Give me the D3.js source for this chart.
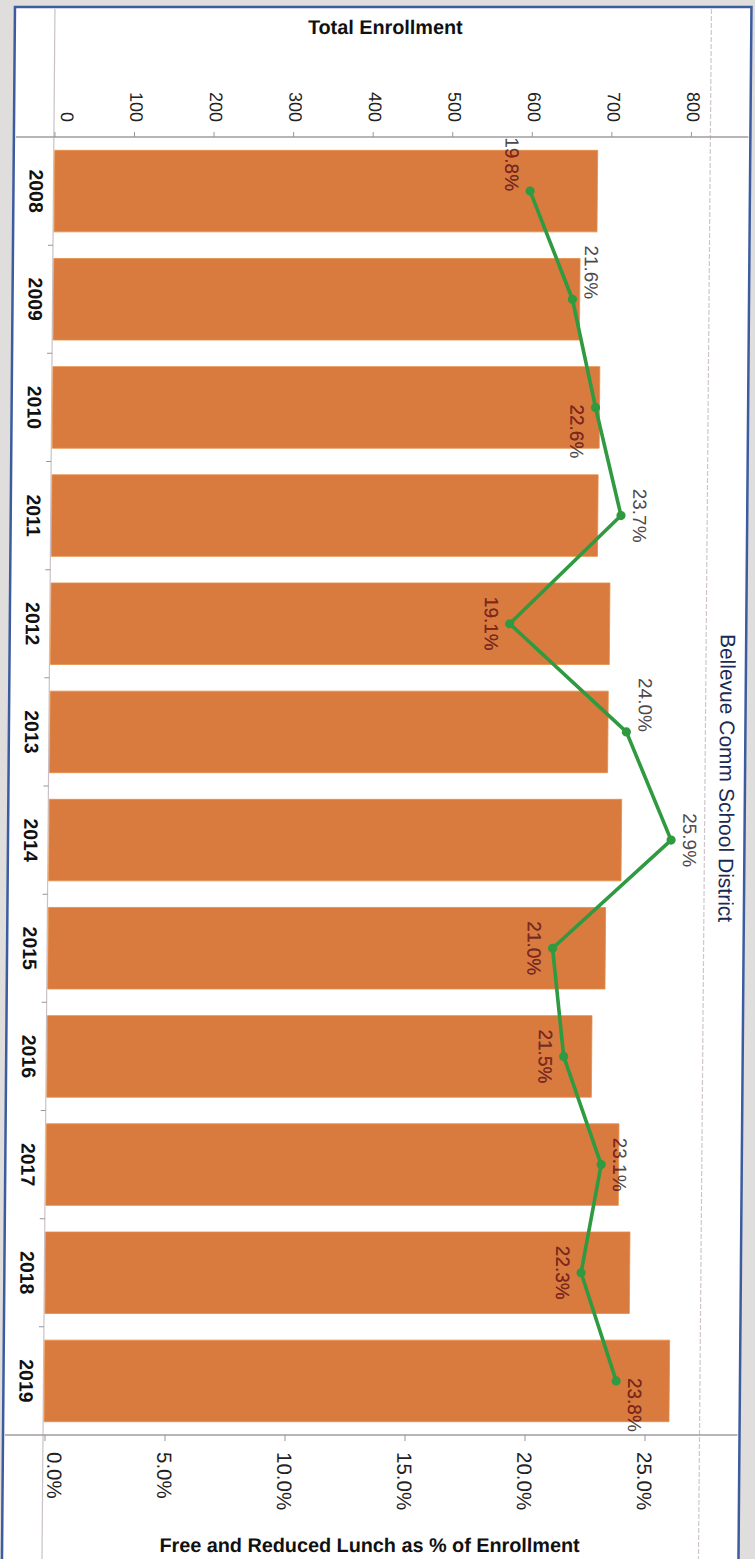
<!DOCTYPE html>
<html><head><meta charset="utf-8">
<script src="https://cdn.jsdelivr.net/npm/d3@7"></script>
<style>html,body{margin:0;padding:0;background:#e4e1e1;} svg{display:block;}</style>
</head><body><svg id="c" width="755" height="1559"></svg>
<script>
// ---- data ----
const years = ['2008','2009','2010','2011','2012','2013','2014','2015','2016','2017','2018','2019'];
const enrollment = [683, 662, 688, 687, 703, 702, 720, 701, 685, 720, 735, 786];
const frlPct = [19.8, 21.6, 22.6, 23.7, 19.1, 24.0, 25.9, 21.0, 21.5, 23.1, 22.3, 23.8];
const enrollTicks = [0, 100, 200, 300, 400, 500, 600, 700, 800];
const pctTicks = [0, 5, 10, 15, 20, 25];
const chartTitle = 'Bellevue Comm School District';
const enrollTitle = 'Total Enrollment';
const pctTitle = 'Free and Reduced Lunch as % of Enrollment';
// label placement (style): side of the point (-1 left / 1 right) and alignment along the band
const labelSide = [-1, 1, -1, 1, -1, 1, 1, -1, -1, 1, -1, 1];
const labelAlign = ['end','end','start','middle','middle','end','middle','middle','middle','middle','middle','start'];

// ---- layout ----
const W = 755, H = 1559;
const FONT = '"Liberation Sans", Arial, sans-serif';
const svg = d3.select('#c');
svg.append('rect').attr('width', W).attr('height', H).attr('fill', '#e0dddd');

const cy = 780, skewDeg = -0.48;
const g = svg.append('g').attr('transform', `translate(0,${cy}) skewX(${skewDeg}) translate(0,${-cy})`);

const frame = {left: 8.5, right: 745, top: 7, bottom: 1620};
const plot = {left: 48.5, right: 705, top: 137, bottom: 1435};

g.append('rect').attr('x', frame.left).attr('y', frame.top)
  .attr('width', frame.right - frame.left).attr('height', frame.bottom - frame.top)
  .attr('fill', '#ffffff').attr('stroke', '#3c5c9f').attr('stroke-width', 2.5);

const xE = d3.scaleLinear().domain([0, 800]).range([49, 685.5]);
const xP = d3.scaleLinear().domain([0, 25]).range([50, 650]);
const yB = d3.scaleBand().domain(years).range([plot.top, plot.bottom]).paddingInner(0.246).paddingOuter(0.123);

// grid / frame lines
g.append('line').attr('x1', plot.left).attr('x2', plot.left).attr('y1', frame.top + 2).attr('y2', frame.bottom)
  .attr('stroke', '#c9c1c7').attr('stroke-width', 1.2);
g.append('line').attr('x1', plot.right).attr('x2', plot.right).attr('y1', frame.top + 2).attr('y2', frame.bottom)
  .attr('stroke', '#cfc6cc').attr('stroke-width', 1.2).attr('stroke-dasharray', '5,2');
[plot.top, plot.bottom].forEach(y => {
  g.append('line').attr('x1', frame.left + 2).attr('x2', frame.right - 2).attr('y1', y).attr('y2', y)
    .attr('stroke', '#a19ca0').attr('stroke-width', 1.3);
});

// bars
const rows = years.map((y, i) => ({year: y, enr: enrollment[i], pct: frlPct[i], i}));
const defs = svg.append('defs');
const clip = defs.append('clipPath').attr('id', 'barclip');
clip.selectAll('rect').data(rows).join('rect')
  .attr('x', xE(0)).attr('y', d => yB(d.year)).attr('width', d => xE(d.enr) - xE(0)).attr('height', yB.bandwidth());

g.append('g').selectAll('rect').data(rows).join('rect')
  .attr('x', xE(0) + 0.5).attr('y', d => yB(d.year))
  .attr('width', d => xE(d.enr) - xE(0) - 0.5).attr('height', yB.bandwidth())
  .attr('fill', '#d97a3f').attr('stroke', '#e58f45').attr('stroke-width', 0.8);

// top axis (enrollment)
const axTop = g.append('g').attr('transform', `translate(0,${plot.top})`)
  .call(d3.axisTop(xE).tickValues(enrollTicks).tickSize(5).tickFormat(d3.format('d')));
axTop.select('.domain').remove();
axTop.selectAll('.tick line').attr('stroke', '#9a959a');
axTop.selectAll('.tick text')
  .attr('y', null).attr('dy', null)
  .attr('transform', (d, i) => `translate(${i === 0 ? 12 : 1.5},-15) rotate(90)`)
  .attr('text-anchor', 'end').attr('dominant-baseline', 'central')
  .attr('font-family', FONT).attr('font-size', 18).attr('fill', '#222');

// bottom axis (percent)
const axBot = g.append('g').attr('transform', `translate(0,${plot.bottom})`)
  .call(d3.axisBottom(xP).tickValues(pctTicks).tickSize(6).tickFormat(d => d.toFixed(1) + '%'));
axBot.select('.domain').remove();
axBot.selectAll('.tick line').attr('stroke', '#9a959a');
axBot.selectAll('.tick text')
  .attr('y', null).attr('dy', null)
  .attr('transform', (d, i) => `translate(${i === 0 ? 10 : 0},17) rotate(90)`)
  .attr('text-anchor', 'start').attr('dominant-baseline', 'central')
  .attr('font-family', FONT).attr('font-size', 20.5).attr('fill', '#222');

// left axis (years)
const axLeft = g.append('g').attr('transform', `translate(${plot.left},0)`)
  .call(d3.axisLeft(yB).tickSize(0));
axLeft.select('.domain').remove();
axLeft.selectAll('.tick text')
  .attr('x', null).attr('dy', null)
  .attr('transform', 'translate(-17,0) rotate(90)')
  .attr('text-anchor', 'middle').attr('dominant-baseline', 'central')
  .attr('font-family', FONT).attr('font-weight', 'bold').attr('font-size', 19.5).attr('fill', '#111');
// boundary ticks between bands
const gapHalf = (yB.step() - yB.bandwidth()) / 2;
const bounds = years.slice(1).map(y => yB(y) - gapHalf);
g.append('g').selectAll('line').data(bounds).join('line')
  .attr('x1', plot.left - 5).attr('x2', plot.left).attr('y1', d => d).attr('y2', d => d)
  .attr('stroke', '#9a959a').attr('stroke-width', 1);

// line series
const cyB = d => yB(d.year) + yB.bandwidth() / 2;
g.append('path').datum(rows)
  .attr('d', d3.line().x(d => xP(d.pct)).y(cyB))
  .attr('fill', 'none').attr('stroke', '#2f9a40').attr('stroke-width', 3.6).attr('stroke-linejoin', 'round');
g.append('g').selectAll('circle').data(rows).join('circle')
  .attr('cx', d => xP(d.pct)).attr('cy', cyB).attr('r', 4.6).attr('fill', '#2f9a40');

// data labels (gray on white, dark red where over bars)
function drawLabels(sel, color) {
  sel.selectAll('text').data(rows).join('text')
    .attr('transform', d => `translate(${xP(d.pct) + labelSide[d.i] * 18.5},${cyB(d) + (labelAlign[d.i] === 'start' ? -3 : 0)}) rotate(90)`)
    .attr('text-anchor', d => labelAlign[d.i])
    .attr('dominant-baseline', 'central')
    .attr('font-family', FONT).attr('font-size', 19).attr('fill', color)
    .text(d => d.pct.toFixed(1) + '%');
}
drawLabels(g.append('g'), '#4e4a4c');
drawLabels(g.append('g').attr('clip-path', 'url(#barclip)'), '#862416');

// titles
g.append('text').attr('x', 379).attr('y', 34).attr('text-anchor', 'middle')
  .attr('font-family', FONT).attr('font-weight', 'bold').attr('font-size', 19.8).attr('fill', '#111')
  .text(enrollTitle);
g.append('text').attr('x', 376).attr('y', 1552).attr('text-anchor', 'middle')
  .attr('font-family', FONT).attr('font-weight', 'bold').attr('font-size', 19.8).attr('fill', '#111')
  .text(pctTitle);
g.append('text').attr('transform', 'translate(727,778) rotate(90)').attr('text-anchor', 'middle')
  .attr('dominant-baseline', 'central')
  .attr('font-family', FONT).attr('font-size', 21).attr('fill', '#1a2a55').text(chartTitle);
</script></body></html>
